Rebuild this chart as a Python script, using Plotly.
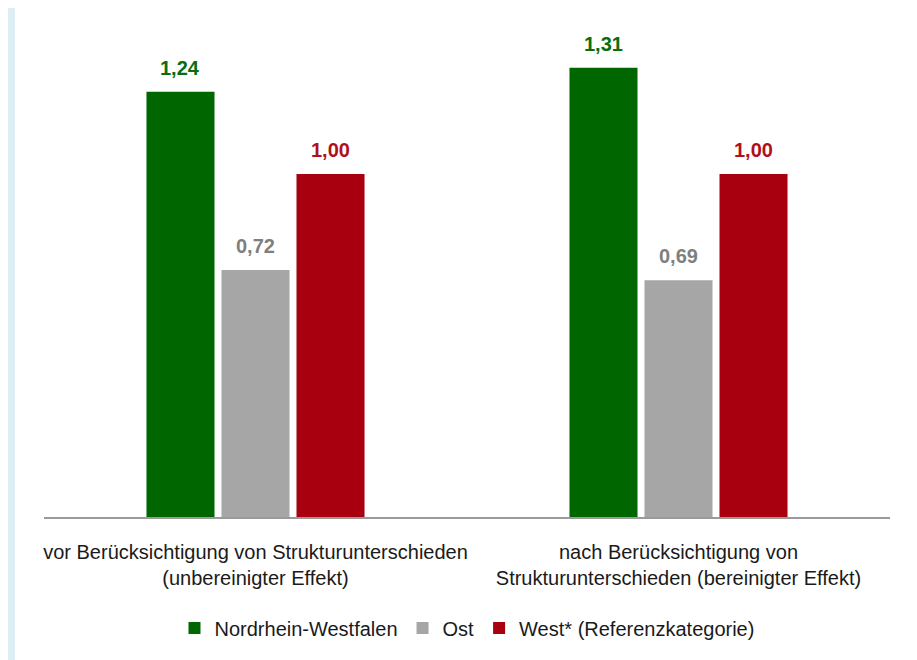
import plotly.graph_objects as go

categories = [
    "vor Berücksichtigung von Strukturunterschieden<br>(unbereinigter Effekt)",
    "nach Berücksichtigung von<br>Strukturunterschieden (bereinigter Effekt)",
]
series_names = ["Nordrhein-Westfalen", "Ost", "West* (Referenzkategorie)"]
nrw = [1.24, 1.31]
ost = [0.72, 0.69]
west = [1.00, 1.00]

bar_colors = ["#006600", "#a6a6a6", "#a8000f"]
label_colors = ["#0b6e0b", "#7f7f7f", "#b0101c"]
FONT = "Liberation Sans, Arial, sans-serif"

# the page body adds an 8px margin, so page pixels are shifted by OFF
OFF = 8
W, H = 917, 660
L, R, T, B = 44 - OFF, 27 + OFF, 20 - OFF, 143 + OFF
plot_w = W - L - R
plot_h = H - T - B
px_per_unit = 343
y_max = plot_h / px_per_unit
axis_y = H - B  # figure pixel of the baseline


def px_x(page_x):
    return (page_x - OFF - L) / plot_w


def px_y(page_y):
    return (axis_y - (page_y - OFF)) / plot_h


fig = go.Figure()
for name, vals, col in zip(series_names, [nrw, ost, west], bar_colors):
    fig.add_trace(go.Bar(
        x=categories, y=vals, name=name,
        marker=dict(color=col, line=dict(width=0)),
        hoverinfo="skip",
    ))

# value labels above the bars
slot = plot_w / 2 * (1 - 0.468) / 3
for i, (vals, col) in enumerate(zip([nrw, ost, west], label_colors)):
    for cat, v in zip(categories, vals):
        fig.add_annotation(
            x=cat, y=v, text=f"<b>{v:.2f}".replace(".", ",") + "</b>",
            showarrow=False, xshift=(i - 1) * slot, yshift=24,
            yanchor="middle", font=dict(family=FONT, size=20, color=col),
        )

# white panel on the light blue background
fig.add_shape(
    type="rect", xref="paper", yref="paper", layer="below",
    x0=px_x(15), x1=px_x(940), y0=px_y(700), y1=px_y(7),
    fillcolor="white", line=dict(width=0),
)

fig.update_layout(
    width=W, height=H,
    margin=dict(l=L, r=R, t=T, b=B),
    paper_bgcolor="#ddeef4", plot_bgcolor="rgba(0,0,0,0)",
    barmode="group", bargap=0.468, bargroupgap=0.093,
    font=dict(family=FONT, size=20, color="#1a1a1a"),
    showlegend=True,
    legend=dict(
        orientation="h", x=0.5, xanchor="center",
        y=px_y(628), yanchor="middle",
        font=dict(size=20, color="#1a1a1a"), bgcolor="rgba(0,0,0,0)",
        itemclick=False,
    ),
    xaxis=dict(
        showline=True, linecolor="#9a9a9a", linewidth=2,
        showgrid=False, ticks="", ticklabelstandoff=16,
        tickfont=dict(size=20, color="#1a1a1a"),
    ),
    yaxis=dict(range=[0, y_max], visible=False, showgrid=False),
)

fig.write_html("out.html")
